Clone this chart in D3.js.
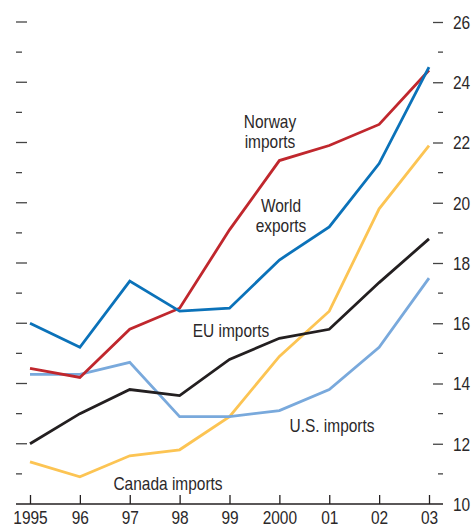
<!DOCTYPE html>
<html>
<head>
  <meta charset="utf-8">
  <script src="https://cdn.jsdelivr.net/npm/d3@7"></script>
  <style>
    body { margin: 0; background: #fff; }
    text {
      font-family: "Liberation Sans", Arial, sans-serif;
      fill: #2b2829;
    }
    .tick-label { font-size: 18px; }
    .label { font-size: 18px; }
    .line { fill: none; stroke-width: 2.8; stroke-linejoin: miter; }
  </style>
</head>
<body>
  <svg id="chart"></svg>
  <script>
    var years = ['1995', '96', '97', '98', '99', '2000', '01', '02', '03'];
    var yTicks = [10, 12, 14, 16, 18, 20, 22, 24, 26];
    var yMinorTicks = [11, 13, 15, 17, 19, 21, 23, 25];

    var worldExports = [16.0, 15.2, 17.4, 16.4, 16.5, 18.1, 19.2, 21.3, 24.5];
    var norwayImports = [14.5, 14.2, 15.8, 16.5, 19.1, 21.4, 21.9, 22.6, 24.4];
    var euImports = [12.0, 13.0, 13.8, 13.6, 14.8, 15.5, 15.8, 17.35, 18.8];
    var usImports = [14.3, 14.3, 14.7, 12.9, 12.9, 13.1, 13.8, 15.2, 17.5];
    var canadaImports = [11.4, 10.9, 11.6, 11.8, 12.9, 14.9, 16.4, 19.8, 21.9];

    var width = 474, height = 529;
    var plot = { left: 16, right: 443, top: 22, bottom: 504 };
    var squeeze = 0.86; // narrow the font horizontally

    var svg = d3.select('#chart')
      .attr('width', width)
      .attr('height', height);

    var x = d3.scalePoint()
      .domain(years)
      .range([30, 429]);

    var y = d3.scaleLinear()
      .domain([10, 26])
      .range([plot.bottom, plot.top]);

    // left ticks, no labels
    svg.append('g').selectAll('line')
      .data(yTicks.filter(d => d > 10))
      .enter().append('line')
      .attr('x1', plot.left).attr('x2', plot.left + 11)
      .attr('y1', d => y(d)).attr('y2', d => y(d))
      .attr('stroke', '#444').attr('stroke-width', 1.3);

    svg.append('g').selectAll('line')
      .data(yMinorTicks)
      .enter().append('line')
      .attr('x1', plot.left).attr('x2', plot.left + 6)
      .attr('y1', d => y(d)).attr('y2', d => y(d))
      .attr('stroke', '#444').attr('stroke-width', 1.3);

    // right axis
    var yAxis = d3.axisRight(y)
      .tickValues(yTicks)
      .tickSize(10)
      .tickFormat(d3.format('d'));

    var gy = svg.append('g')
      .attr('transform', 'translate(' + (plot.right - 10) + ',0)')
      .call(yAxis);
    gy.select('.domain').remove();
    gy.attr('font-family', null).attr('font-size', null);
    gy.selectAll('.tick line').attr('stroke', '#444').attr('stroke-width', 1.3);
    gy.selectAll('.tick')
      .filter(d => d === 10)
      .select('line').remove();
    gy.selectAll('.tick text')
      .attr('class', 'tick-label')
      .attr('transform', 'scale(' + squeeze + ',1)')
      .attr('x', 20 / squeeze)
      .attr('dy', '0.36em')
      .attr('fill', '#2b2829');

    svg.append('g').selectAll('line')
      .data(yMinorTicks)
      .enter().append('line')
      .attr('x1', plot.right - 5).attr('x2', plot.right)
      .attr('y1', d => y(d)).attr('y2', d => y(d))
      .attr('stroke', '#444').attr('stroke-width', 1.3);

    // bottom axis
    svg.append('line')
      .attr('x1', plot.left).attr('x2', plot.right)
      .attr('y1', plot.bottom).attr('y2', plot.bottom)
      .attr('stroke', '#231f20').attr('stroke-width', 1.5);

    var xAxis = d3.axisBottom(x)
      .tickSizeInner(-9)
      .tickSizeOuter(0);

    var gx = svg.append('g')
      .attr('transform', 'translate(0,' + plot.bottom + ')')
      .call(xAxis);
    gx.select('.domain').remove();
    gx.attr('font-family', null).attr('font-size', null);
    gx.selectAll('.tick line').attr('stroke', '#231f20').attr('stroke-width', 1.3);
    gx.selectAll('.tick text')
      .attr('class', 'tick-label')
      .attr('transform', 'scale(' + squeeze + ',1)')
      .attr('y', 20)
      .attr('dy', 0)
      .attr('fill', '#2b2829');

    // series
    var series = [
      { name: 'Canada imports', values: canadaImports, color: '#fcc453' },
      { name: 'U.S. imports', values: usImports, color: '#79a9dc' },
      { name: 'EU imports', values: euImports, color: '#231f20' },
      { name: 'Norway imports', values: norwayImports, color: '#c0272d' },
      { name: 'World exports', values: worldExports, color: '#0b72b9' }
    ];

    var line = d3.line()
      .x((d, i) => x(years[i]))
      .y(d => y(d));

    svg.append('g').selectAll('path')
      .data(series)
      .enter().append('path')
      .attr('class', 'line')
      .attr('stroke', d => d.color)
      .attr('d', d => line(d.values));

    // labels
    var labels = [
      { lines: ['Norway', 'imports'], x: 270, y: 128 },
      { lines: ['World', 'exports'], x: 281, y: 212 },
      { lines: ['EU imports'], x: 231, y: 337 },
      { lines: ['U.S. imports'], x: 332, y: 432 },
      { lines: ['Canada imports'], x: 168, y: 490 }
    ];

    labels.forEach(function (l) {
      var t = svg.append('g')
        .attr('transform', 'translate(' + l.x + ',' + l.y + ') scale(' + squeeze + ',1)')
        .append('text')
        .attr('class', 'label')
        .attr('text-anchor', 'middle');
      l.lines.forEach(function (s, i) {
        t.append('tspan')
          .attr('x', 0)
          .attr('dy', i === 0 ? 0 : 20)
          .text(s);
      });
    });
  </script>
</body>
</html>
